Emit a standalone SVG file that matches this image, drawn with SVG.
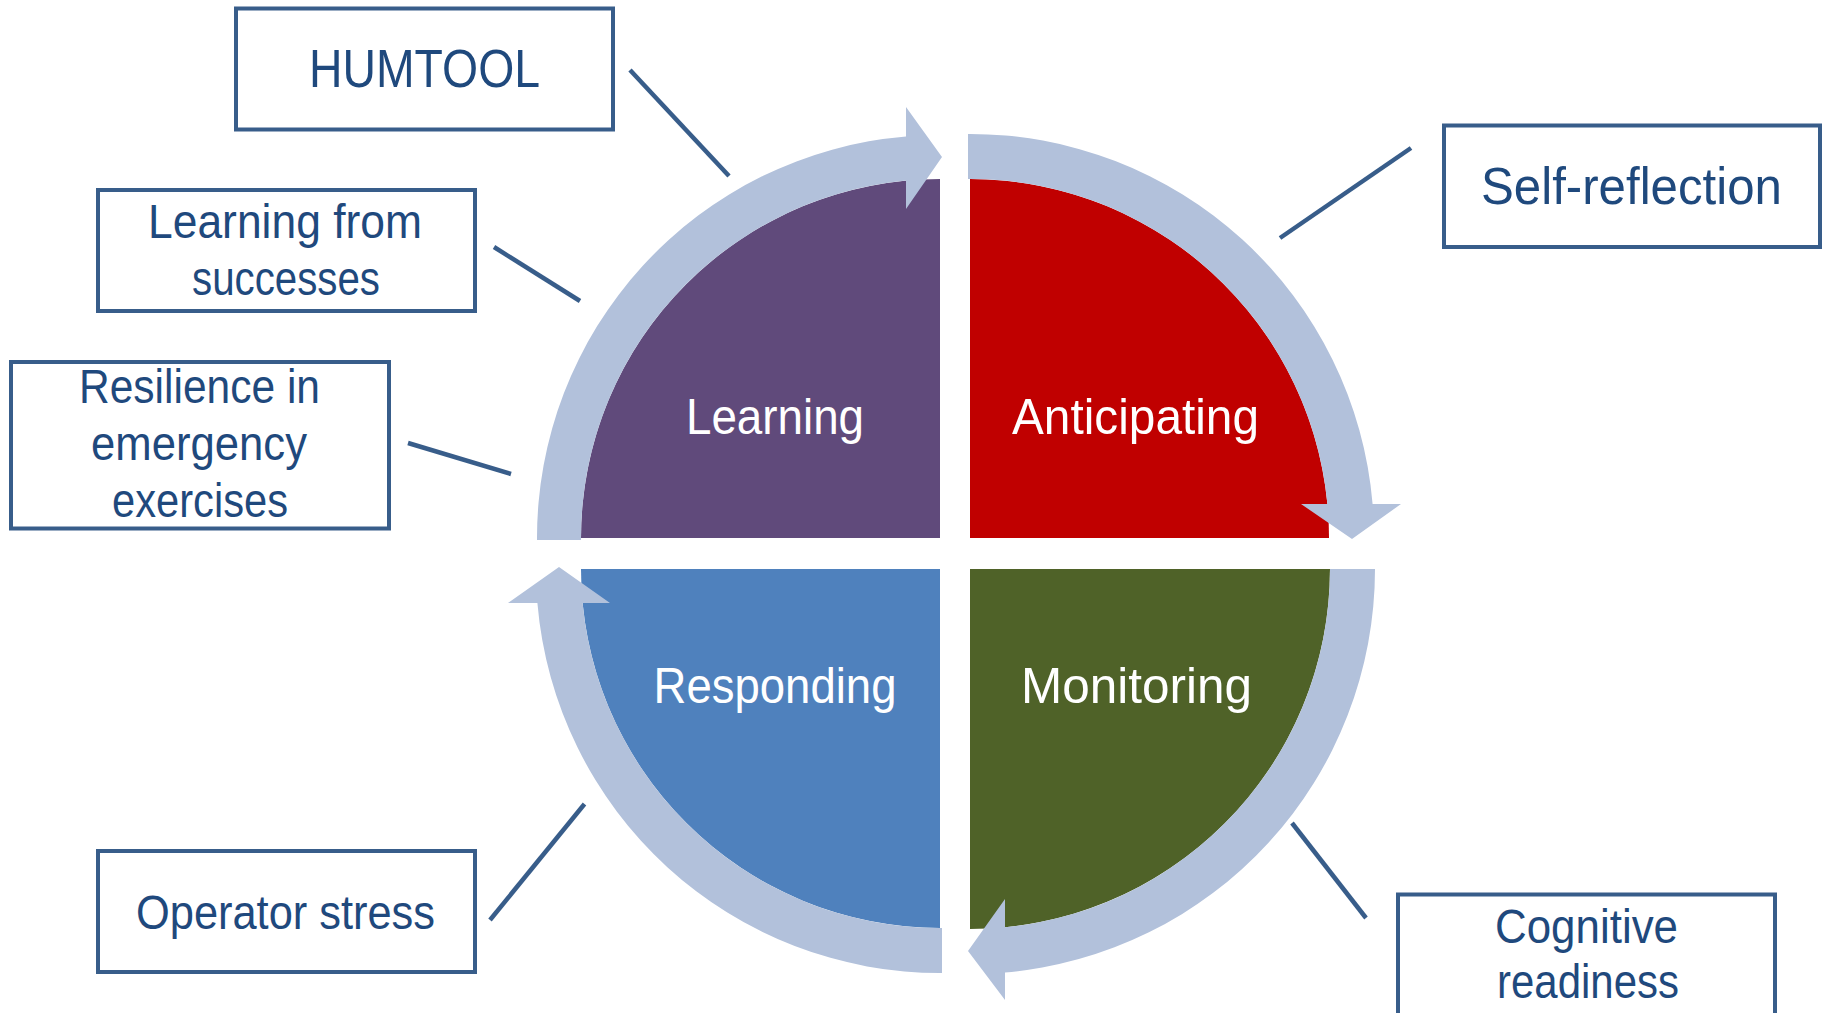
<svg xmlns="http://www.w3.org/2000/svg" width="1825" height="1013" viewBox="0 0 1825 1013">
<style>
  .qlabel { font-family: "Liberation Sans", Arial, sans-serif; font-size: 50px; fill: #FFFFFF; text-anchor: middle; }
  .btext { font-family: "Liberation Sans", Arial, sans-serif; font-size: 48px; fill: #1F497D; text-anchor: middle; }
  .box { fill: #FFFFFF; stroke: #385D8A; stroke-width: 4; }
  .band { fill: #B2C1DB; }
  .conn { stroke: #385D8A; stroke-width: 4.5; fill: none; }
</style>
<rect x="0" y="0" width="1825" height="1013" fill="#FFFFFF"/>

<!-- Quadrants -->
<g id="learning">
  <path d="M940,538 L581,538 A359,359 0 0 1 940,179 Z" fill="#604A7B"/>
</g>
<g id="anticipating">
  <path d="M970,538 L970,179 A359,359 0 0 1 1329,538 Z" fill="#C00000"/>
</g>
<g id="monitoring">
  <path d="M970,569 L1330,569 A360,360 0 0 1 970,929 Z" fill="#4F6228"/>
</g>
<g id="responding">
  <path d="M940,569 L940,928 A359,359 0 0 1 581,569 Z" fill="#4F81BD"/>
</g>

<!-- Cycle arrows -->
<g id="cycle-arrows">
  <path class="band" d="M537,540 A403,403 0 0 1 906,136.4 L906,107 L942,157 L906,209 L906,180.6 A359,359 0 0 0 581,540 Z"/>
  <path class="band" d="M968,134 A404,404 0 0 1 1372.6,504 L1401,504 L1352,539 L1301,504 L1327.4,504 A359,359 0 0 0 968,179 Z"/>
  <path class="band" d="M1375,569 A405,405 0 0 1 1005,972.5 L1005,1000 L968,951 L1005,899 L1005,927.3 A360,360 0 0 0 1330,569 Z"/>
  <path class="band" d="M942,973 A404,404 0 0 1 537.4,603 L508,603 L559,567 L610,603 L582.6,603 A359,359 0 0 0 942,928 Z"/>
</g>

<!-- Quadrant labels -->
<g id="quadrant-labels">
  <text class="qlabel" x="775" y="434" textLength="178" lengthAdjust="spacingAndGlyphs">Learning</text>
  <text class="qlabel" x="1135.5" y="434" textLength="247" lengthAdjust="spacingAndGlyphs">Anticipating</text>
  <text class="qlabel" x="775" y="703" textLength="243" lengthAdjust="spacingAndGlyphs">Responding</text>
  <text class="qlabel" x="1136.5" y="703" textLength="231" lengthAdjust="spacingAndGlyphs">Monitoring</text>
</g>

<!-- Connectors -->
<g id="connectors">
  <line class="conn" x1="630" y1="70" x2="729" y2="176"/>
  <line class="conn" x1="494" y1="247" x2="580" y2="301"/>
  <line class="conn" x1="408" y1="443" x2="511" y2="474"/>
  <line class="conn" x1="1411" y1="148" x2="1280" y2="238"/>
  <line class="conn" x1="584.5" y1="804" x2="490" y2="920"/>
  <line class="conn" x1="1292" y1="823" x2="1366" y2="918"/>
</g>

<!-- Boxes -->
<g id="box-humtool">
  <rect class="box" x="236" y="8.5" width="377" height="121"/>
  <text class="btext" x="424.5" y="87" style="font-size:53px" textLength="231" lengthAdjust="spacingAndGlyphs">HUMTOOL</text>
</g>
<g id="box-learning-from-successes">
  <rect class="box" x="98" y="190" width="377" height="121"/>
  <text class="btext" x="285" y="238" textLength="274" lengthAdjust="spacingAndGlyphs">Learning from</text>
  <text class="btext" x="286" y="295" textLength="188" lengthAdjust="spacingAndGlyphs">successes</text>
</g>
<g id="box-resilience">
  <rect class="box" x="11" y="362" width="378" height="166.5"/>
  <text class="btext" x="199.5" y="403" textLength="241" lengthAdjust="spacingAndGlyphs">Resilience in</text>
  <text class="btext" x="199" y="460" textLength="216" lengthAdjust="spacingAndGlyphs">emergency</text>
  <text class="btext" x="200" y="517" textLength="176" lengthAdjust="spacingAndGlyphs">exercises</text>
</g>
<g id="box-self-reflection">
  <rect class="box" x="1444" y="125.5" width="376" height="121.5"/>
  <text class="btext" x="1631.5" y="204" style="font-size:52px" textLength="301" lengthAdjust="spacingAndGlyphs">Self-reflection</text>
</g>
<g id="box-operator-stress">
  <rect class="box" x="98" y="851" width="377" height="121"/>
  <text class="btext" x="285.5" y="929" textLength="299" lengthAdjust="spacingAndGlyphs">Operator stress</text>
</g>
<g id="box-cognitive-readiness">
  <rect class="box" x="1398" y="894.5" width="377" height="121"/>
  <text class="btext" x="1586.5" y="943" textLength="183" lengthAdjust="spacingAndGlyphs">Cognitive</text>
  <text class="btext" x="1588" y="998" textLength="182" lengthAdjust="spacingAndGlyphs">readiness</text>
</g>
</svg>
